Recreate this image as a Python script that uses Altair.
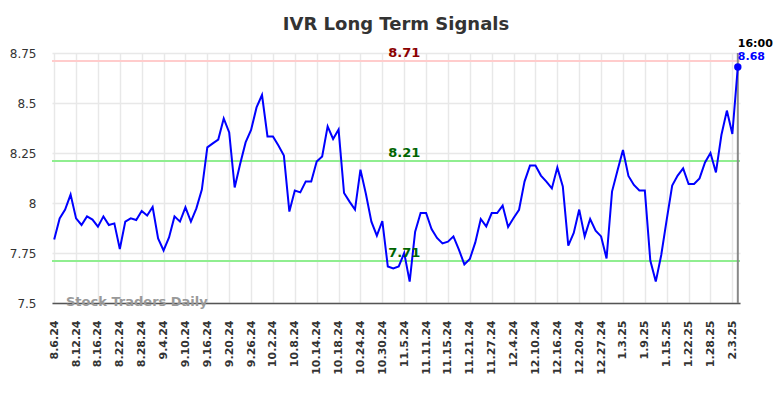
import altair as alt
import pandas as pd

# trading-day categories (Aug 6, 2024 .. Feb 4, 2025)
holidays = ["2024-09-02", "2024-11-28", "2024-12-25", "2025-01-01", "2025-01-20"]
days = pd.bdate_range("2024-08-06", "2025-02-04", freq="C", holidays=holidays)
dates = [f"{d.month}.{d.day}.{d.year % 100}" for d in days]

values = [
    7.817, 7.923, 7.967, 8.042, 7.923, 7.89, 7.933, 7.917, 7.882, 7.933,
    7.89, 7.898, 7.77, 7.907, 7.923, 7.915, 7.96, 7.937, 7.98, 7.823,
    7.763, 7.828, 7.933, 7.907, 7.978, 7.907, 7.973, 8.067, 8.278, 8.298,
    8.317, 8.423, 8.353, 8.078, 8.195, 8.303, 8.365, 8.478, 8.54, 8.333,
    8.333, 8.287, 8.237, 7.957, 8.062, 8.053, 8.108, 8.108, 8.207, 8.233,
    8.383, 8.32, 8.367, 8.05, 8.007, 7.967, 8.167, 8.045, 7.907, 7.837,
    7.91, 7.683, 7.673, 7.683, 7.75, 7.607, 7.857, 7.95, 7.95, 7.87,
    7.825, 7.798, 7.807, 7.833, 7.767, 7.693, 7.72, 7.803, 7.92, 7.883,
    7.95, 7.95, 7.987, 7.88, 7.925, 7.966, 8.107, 8.187, 8.187, 8.137,
    8.107, 8.073, 8.177, 8.083, 7.787, 7.85, 7.967, 7.833, 7.92, 7.862,
    7.833, 7.723, 8.057, 8.162, 8.265, 8.135, 8.09, 8.063, 8.063, 7.712,
    7.607, 7.74, 7.917, 8.087, 8.137, 8.173, 8.095, 8.095, 8.123, 8.203,
    8.25, 8.153, 8.34, 8.462, 8.345, 8.68,
]

x_labels = dates[::4]
y_ticks = [7.5, 7.75, 8.0, 8.25, 8.5, 8.75]

ref_values = [8.71, 8.21, 7.71]
ref_texts = ["8.71", "8.21", "7.71"]
ref_line_colors = ["#ffcccc", "#90ee90", "#90ee90"]
ref_text_colors = ["#8b0000", "#006400", "#006400"]
ref_label_date = "11.5.24"

last_time = "16:00"
last_value = values[-1]
last_date = dates[-1]

W, H = 688, 250

df = pd.DataFrame({"date": dates, "value": values, "idx": list(range(len(dates)))})
ref_df = pd.DataFrame({
    "date": [ref_label_date] * 3,
    "value": ref_values,
    "txt": ref_texts,
    "lc": ref_line_colors,
    "tc": ref_text_colors,
})
last_df = pd.DataFrame({"date": [last_date], "value": [last_value],
                        "txt": [f"{last_value:.2f}"], "time": [last_time]})
wm_df = pd.DataFrame({"t": ["Stock Traders Daily"]})

x_enc = alt.X(
    "date:O",
    sort=dates,
    scale=alt.Scale(type="point", padding=0.4),
    title=None,
    axis=alt.Axis(
        values=x_labels,
        labelAngle=-90,
        labelFontSize=11,
        labelFontWeight="bold",
        labelColor="#333333",
        labelPadding=17,
        labelOverlap=False,
        ticks=False,
        domain=True,
        domainColor="#555555",
        domainWidth=1.5,
        grid=True,
        gridColor="#e8e8e8",
        gridWidth=1.5,
    ),
)
y_enc = alt.Y(
    "value:Q",
    scale=alt.Scale(domain=[7.5, 8.75], nice=False, zero=False),
    title=None,
    axis=alt.Axis(
        values=y_ticks,
        labelExpr="'' + datum.value",
        labelFontSize=12,
        labelColor="#333333",
        labelPadding=16,
        ticks=False,
        domain=False,
        grid=True,
        gridColor="#e8e8e8",
        gridWidth=1.5,
    ),
)

ref_rules = alt.Chart(ref_df).mark_rule(strokeWidth=2).encode(
    y=alt.Y("value:Q"), color=alt.Color("lc:N", scale=None)
)
ref_labels = alt.Chart(ref_df).mark_text(
    fontSize=13, fontWeight="bold", dy=-8, align="center"
).encode(x=alt.X("date:O", sort=dates), y="value:Q", text="txt:N",
         color=alt.Color("tc:N", scale=None))

vline = alt.Chart(last_df).mark_rule(color="#888888", strokeWidth=2).encode(
    x=alt.X("date:O", sort=dates), y=alt.value(0), y2=alt.value(H)
)

line = alt.Chart(df).mark_line(color="#0000ff", strokeWidth=2).encode(
    x=x_enc, y=y_enc, order="idx:Q"
)

dot = alt.Chart(last_df).mark_circle(color="#0000ff", size=55, opacity=1).encode(
    x=alt.X("date:O", sort=dates), y="value:Q"
)
last_val_txt = alt.Chart(last_df).mark_text(
    fontSize=11, fontWeight="bold", color="#0000ff", align="left", dy=-10
).encode(x=alt.X("date:O", sort=dates), y="value:Q", text="txt:N")
last_time_txt = alt.Chart(last_df).mark_text(
    fontSize=11, fontWeight="bold", color="#000000", align="left", dy=-23
).encode(x=alt.X("date:O", sort=dates), y="value:Q", text="time:N")

watermark = alt.Chart(wm_df).mark_text(
    fontSize=13, fontWeight="bold", color="#999999", align="left", baseline="middle"
).encode(x=alt.value(14), y=alt.value(H - 1.5), text="t:N")

chart = alt.layer(
    ref_rules, vline, line, dot, ref_labels, last_val_txt, last_time_txt, watermark
).properties(
    width=W,
    height=H,
    title=alt.TitleParams(
        "IVR Long Term Signals", fontSize=18, fontWeight="bold", color="#333333",
        anchor="middle", frame="group", offset=4,
    ),
    autosize=alt.AutoSizeParams(type="none"),
    padding={"left": 44, "top": 45, "right": 36, "bottom": 80},
).configure(
    font="DejaVu Sans",
).configure_view(
    stroke=None
)

chart.save("out.html", embed_options={"renderer": "svg", "actions": False})
